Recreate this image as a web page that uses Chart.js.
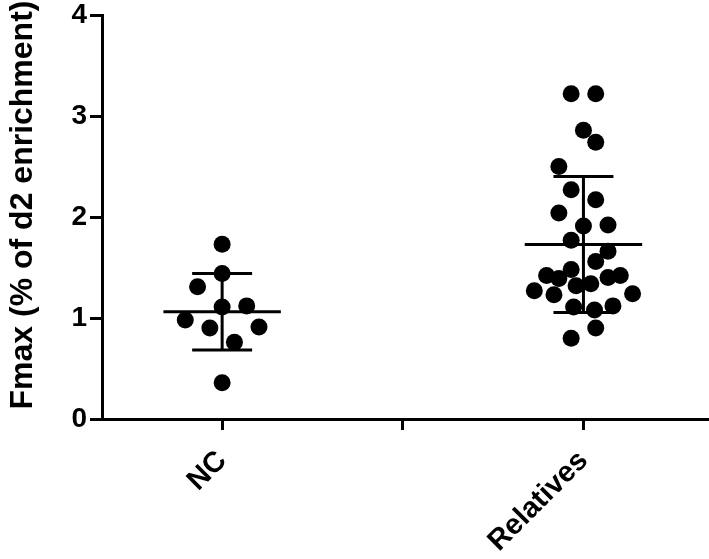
<!DOCTYPE html>
<html>
<head>
<meta charset="utf-8">
<script src="https://cdn.jsdelivr.net/npm/chart.js@4.4.1/dist/chart.umd.min.js"></script>
<style>
  html, body { margin: 0; padding: 0; background: #ffffff; }
  #wrap { width: 709px; height: 559px; }
</style>
</head>
<body>
<div id="wrap"><canvas id="c" width="709" height="559"></canvas></div>
<script>
// ---- data ----
const categories = ['NC', '', 'Relatives'];
const categoryIndex = [0, 2];   // where each group sits on the category axis

const ncValues  = [1.73, 1.44, 1.31, 1.11, 1.12, 0.98, 0.90, 0.91, 0.76, 0.36];
const ncJitter  = [0, 0, -2, 0, 2, -3, -1, 3, 1, 0];          // scatter spread, in jitter steps

const relValues = [3.22, 3.22, 2.86, 2.74, 2.50, 2.27, 2.17, 2.04, 1.91, 1.92,
                   1.77, 1.66, 1.56, 1.48, 1.42, 1.39, 1.40, 1.42, 1.32, 1.34,
                   1.27, 1.23, 1.24, 1.11, 1.08, 1.12, 0.90, 0.80];
const relJitter = [-1, 1, 0, 1, -2, -1, 1, -2, 0, 2,
                   -1, 2, 1, -1, -3, -2, 2, 3, -0.6, 0.6,
                   -4, -2.4, 4, -0.8, 0.9, 2.4, 1, -1];

const yTicks = [0, 1, 2, 3, 4];
const yTitle = 'Fmax (% of d2 enrichment)';

// ---- helpers ----
const JITTER_STEP = 0.068;
function toPoints(values, jitter, cat) {
  return values.map((v, i) => ({ x: cat + jitter[i] * JITTER_STEP, y: v }));
}
function meanSd(values) {
  const n = values.length;
  const m = values.reduce((a, b) => a + b, 0) / n;
  const sd = Math.sqrt(values.reduce((a, b) => a + (b - m) * (b - m), 0) / (n - 1));
  return { m, sd };
}
const groups = [
  { values: ncValues, cat: categoryIndex[0] },
  { values: relValues, cat: categoryIndex[1] }
];

const FONT = "'Liberation Sans', Arial, Helvetica, sans-serif";

const errorBars = {
  id: 'errorBars',
  afterDatasetsDraw(chart) {
    const { ctx, scales: { x, y } } = chart;
    ctx.save();
    ctx.strokeStyle = '#000';
    ctx.lineWidth = 3;
    ctx.lineCap = 'butt';
    groups.forEach(g => {
      const { m, sd } = meanSd(g.values);
      const cx = x.getPixelForValue(g.cat);
      const meanL = x.getPixelForValue(g.cat - 0.325), meanR = x.getPixelForValue(g.cat + 0.325);
      const capL = x.getPixelForValue(g.cat - 0.166), capR = x.getPixelForValue(g.cat + 0.166);
      const yM = y.getPixelForValue(m), yT = y.getPixelForValue(m + sd), yB = y.getPixelForValue(m - sd);
      ctx.beginPath();
      ctx.moveTo(meanL, yM); ctx.lineTo(meanR, yM);
      ctx.moveTo(capL, yT); ctx.lineTo(capR, yT);
      ctx.moveTo(capL, yB); ctx.lineTo(capR, yB);
      ctx.moveTo(cx, yT); ctx.lineTo(cx, yB);
      ctx.stroke();
    });
    ctx.restore();
  }
};

// y-axis title, placed like the reference (slightly above the plot centre)
const yTitlePlugin = {
  id: 'yTitlePlugin',
  afterDraw(chart) {
    const { ctx } = chart;
    ctx.save();
    ctx.translate(23, 205);
    ctx.rotate(-Math.PI / 2);
    ctx.fillStyle = '#000';
    ctx.font = `bold 32px ${FONT}`;
    ctx.textAlign = 'center';
    ctx.textBaseline = 'middle';
    ctx.fillText(yTitle, 0, 0);
    ctx.restore();
  }
};

new Chart(document.getElementById('c'), {
  type: 'scatter',
  data: {
    datasets: [
      { label: 'NC', data: toPoints(ncValues, ncJitter, categoryIndex[0]),
        backgroundColor: '#000', borderColor: '#000', pointRadius: 8.5, pointBorderWidth: 0 },
      { label: 'Relatives', data: toPoints(relValues, relJitter, categoryIndex[1]),
        backgroundColor: '#000', borderColor: '#000', pointRadius: 8.5, pointBorderWidth: 0 }
    ]
  },
  options: {
    responsive: false,
    animation: false,
    devicePixelRatio: 1,
    layout: { autoPadding: false, padding: { top: 15, right: 0, left: 0, bottom: 0 } },
    plugins: { legend: { display: false }, tooltip: { enabled: false } },
    scales: {
      x: {
        type: 'linear',
        min: -0.665,
        max: 2.695,
        afterBuildTicks(scale) { scale.ticks = categories.map((c, i) => ({ value: i })); },
        afterFit(scale) { scale.height = 140; scale.paddingLeft = 0; scale.paddingRight = 0; },
        grid: { drawOnChartArea: false, drawTicks: true, tickLength: 11, tickWidth: 3, tickColor: '#000' },
        border: { display: true, color: '#000', width: 3 },
        ticks: {
          autoSkip: false, maxRotation: 45, minRotation: 45, padding: 14,
          color: '#000', font: { family: FONT, size: 29, weight: 'bold' },
          callback: (v) => categories[v] !== undefined ? categories[v] : ''
        }
      },
      y: {
        min: yTicks[0],
        max: yTicks[yTicks.length - 1],
        afterBuildTicks(scale) { scale.ticks = yTicks.map(v => ({ value: v })); },
        afterFit(scale) { scale.width = 102; scale.paddingTop = 0; scale.paddingBottom = 0; },
        grid: { drawOnChartArea: false, drawTicks: true, tickLength: 12, tickWidth: 3, tickColor: '#000' },
        border: { display: true, color: '#000', width: 3 },
        ticks: { padding: 3, color: '#000', font: { family: FONT, size: 28, weight: 'bold' } },
        title: { display: false }
      }
    }
  },
  plugins: [errorBars, yTitlePlugin]
});
</script>
</body>
</html>
